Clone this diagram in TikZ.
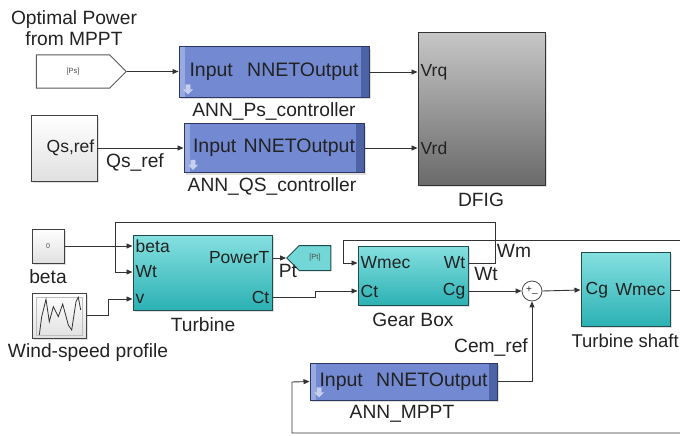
\documentclass[tikz,border=0pt]{standalone}
\usepackage{fontspec}
\setmainfont{Liberation Sans}
\usetikzlibrary{arrows.meta,shapes.symbols,shadows}

\begin{document}
\begin{tikzpicture}[x=1pt,y=-1pt,font=\fontsize{19.2}{21}\selectfont]
  \definecolor{annblue}{HTML}{738AD3}
  \definecolor{annlight}{HTML}{98AAE0}
  \definecolor{anndark}{HTML}{4E63A6}
  \definecolor{annedge}{HTML}{2C3763}
  \definecolor{tealtop}{HTML}{86E0E0}
  \definecolor{tealbot}{HTML}{2CB1B4}
  \definecolor{tealedge}{HTML}{204C4F}
  \definecolor{dfigtop}{HTML}{C6C6C6}
  \definecolor{dfigbot}{HTML}{6A6A6A}
  \definecolor{wirec}{HTML}{333333}
  \definecolor{ink}{HTML}{222222}
  \useasboundingbox (0,0) rectangle (680,436);
  \tikzset{
    block/.style={draw=#1,line width=1pt,inner sep=0pt,text=ink,
      drop shadow={shadow xshift=2pt,shadow yshift=-2pt,opacity=.25}},
    ann/.style={block=annedge,fill=annblue,font=\fontsize{19.5}{21}\selectfont,path picture={
      \fill[annlight] (path picture bounding box.north west) rectangle ([xshift=6pt]path picture bounding box.south west);
      \fill[anndark] ([xshift=-8pt]path picture bounding box.north east) rectangle (path picture bounding box.south east);
      \filldraw[fill=annlight!55!white,draw=white!60!annblue,line width=.4pt]
        ([shift={(9pt,3pt)}]path picture bounding box.south west) -- ++(4.5pt,4.5pt) -- ++(-2.3pt,0pt)
        -- ++(0pt,5pt) -- ++(-4.4pt,0pt) -- ++(0pt,-5pt) -- ++(-2.3pt,0pt) -- cycle;}},
    teal/.style={block=tealedge,top color=tealtop,bottom color=tealbot},
    srcbox/.style={block=black!75,top color=white,bottom color=black!12},
    goto/.style={shape=signal,signal from=nowhere,draw=#1,line width=1pt,inner sep=0pt,
      text=black!70,font=\fontsize{7.5}{8}\selectfont},
    port/.style={inner xsep=3pt,inner ysep=0pt,text=ink,font=\fontsize{17.5}{19}\selectfont},
    lbl/.style={inner sep=0pt,text=ink},
    wire/.style={draw=wirec,line width=.9pt,-{Triangle[length=6pt,width=5pt]}}
  }

  % electrical side: the two ANN controllers feed the rotor voltages
  \node[lbl,align=center] (title) at (74,28) {Optimal Power\\from MPPT};
  \node[goto=black!65,fill=white,signal to=east,minimum width=90pt,minimum height=33pt] (ps) at (73,71.5) {[Ps]};
  \node[ann,minimum width=190pt,minimum height=50pt] (annps) at (274,72) {\makebox[169pt]{Input\hfill NNETOutput}};
  \node[lbl] (annpsl) at (274,111) {ANN\_Ps\_controller};
  \node[block=black!80,top color=dfigtop,bottom color=dfigbot,minimum width=127pt,minimum height=152pt] (dfig) at (481.5,109) {};
  \node[port,anchor=west] (vrq) at (dfig.west |- 0,72) {Vrq};
  \node[port,anchor=west] (vrd) at (dfig.west |- 0,148) {Vrd};
  \node[lbl] (dfigl) at (481,200) {DFIG};
  \node[srcbox,minimum width=66pt,minimum height=66pt] (qs) at (64,148) {};
  \node[port,anchor=east] (qst) at (qs.east) {Qs,ref};
  \node[ann,minimum width=180pt,minimum height=49pt] (annqs) at (274,148) {\makebox[162pt]{Input\hfill NNETOutput}};
  \node[lbl] (annqsl) at (272,186) {ANN\_QS\_controller};
  \node[lbl] (qsref) at (135,162) {Qs\_ref};

  \draw[wire] (ps.east) -- (ps.east -| annps.west);
  \draw[wire] (annps.east) -- (vrq.west);
  \draw[wire] (qs.east) -- (annqs.west);
  \draw[wire] (annqs.east) -- (vrd.west);

  % mechanical side
  \node[srcbox,minimum width=32pt,minimum height=34pt,font=\fontsize{7}{8}\selectfont,text=black!70] (cst) at (48,246) {0};
  \node[lbl] (betal) at (48,277) {beta};
  \node[srcbox,minimum width=54pt,minimum height=45pt] (wind) at (59,315.5) {};
  \draw[black!25,line width=.6pt] (36,297) rectangle (82,335);
  \draw[black!80,line width=.8pt] (39.3,335) -- (41.7,316.7) -- (46,299.3) -- (49.3,321.7) -- (53.3,306.7)
    -- (58.3,316.7) -- (62.7,304) -- (68.3,325) -- (71.7,330) -- (76,301.7) -- (78.3,297.3) -- (80.7,310);
  \node[lbl] (windl) at (88,353) {Wind-speed profile};

  \node[teal,minimum width=139pt,minimum height=75pt] (turb) at (202.5,272.5) {};
  \node[port,anchor=west] (tbeta) at (turb.west |- 0,246) {beta};
  \node[port,anchor=west] (twt) at (turb.west |- 0,272) {Wt};
  \node[port,anchor=west] (tv) at (turb.west |- 0,299) {v};
  \node[port,anchor=east] (tpow) at (turb.east |- 0,258) {PowerT};
  \node[port,anchor=east] (tct) at (turb.east |- 0,297) {Ct};
  \node[lbl] (turbl) at (203,325) {Turbine};
  \node[goto=tealedge,fill=tealtop!80!tealbot,signal to=west,minimum width=44pt,minimum height=25pt] (pt) at (315,258) {[Pt]};
  \node[lbl] (ptl) at (288,271) {Pt};

  \node[teal,minimum width=110pt,minimum height=59pt] (gear) at (413,275.5) {};
  \node[port,anchor=west] (gwmec) at (gear.west |- 0,263) {Wmec};
  \node[port,anchor=west] (gct) at (gear.west |- 0,291) {Ct};
  \node[port,anchor=east] (gwt) at (gear.east |- 0,263) {Wt};
  \node[port,anchor=east] (gcg) at (gear.east |- 0,291) {Cg};
  \node[lbl] (gearl) at (413,320) {Gear Box};
  \node[lbl] (wtl) at (486,274) {Wt};
  \node[lbl] (wml) at (514,251) {Wm};

  \node[circle,draw=black!70,fill=white,line width=.8pt,minimum size=20pt,inner sep=0pt] (sum) at (532,291) {};
  \node[lbl,font=\fontsize{10}{10}\selectfont] (splus) at (529,290) {+};
  \node[lbl,font=\fontsize{10}{10}\selectfont] (sminus) at (535,293) {\_};
  \node[teal,minimum width=89pt,minimum height=74pt] (shaft) at (625.5,289) {};
  \node[port,anchor=west,inner xsep=5pt] (scg) at (shaft.west |- 0,290) {Cg};
  \node[port,anchor=east,inner xsep=5pt] (swmec) at (shaft.east |- 0,290) {Wmec};
  \node[lbl,anchor=east,font=\fontsize{18.5}{20}\selectfont] (shaftl) at (679,341) {Turbine shaft};

  \node[ann,minimum width=187pt,minimum height=37pt] (annmp) at (403.5,381.5) {\makebox[168pt]{Input\hfill NNETOutput}};
  \node[lbl] (annmpl) at (402,414) {ANN\_MPPT};
  \node[lbl] (cemref) at (491,347) {Cem\_ref};

  \coordinate (wtup) at (495,222);
  \coordinate (wtleft) at (115,272);
  \coordinate (wmin) at (682,240);
  \coordinate (wmdrop) at (343,263);
  \coordinate (wmout) at (682,290);
  \coordinate (mpin) at (682,433);
  \coordinate (mpup) at (292,382);

  \draw[wire] (cst.east) -- (tbeta.west);
  \draw[wire] (wind.east) -- ++(22,0) |- (tv.west);
  \draw[wire] (tpow.east) -- (pt.west);
  \draw[wire] (tct.east) -- ++(43,0) |- (gct.west);
  \draw[wire] (gwt.east) -| (wtup) -| (wtleft) -- (twt.west);
  \draw[wire] (wmin) -| (wmdrop) -- (gwmec.west);
  \draw[wire] (gcg.east) -- (sum.west);
  \draw[wire] (sum.east) -- (scg.west);
  \draw[wire,-] (swmec.east) -- (wmout);
  \draw[wire] (annmp.east) -| (sum.south);
  \draw[wire] (mpin) -| (mpup) -- (annmp.west);
\end{tikzpicture}
\end{document}
